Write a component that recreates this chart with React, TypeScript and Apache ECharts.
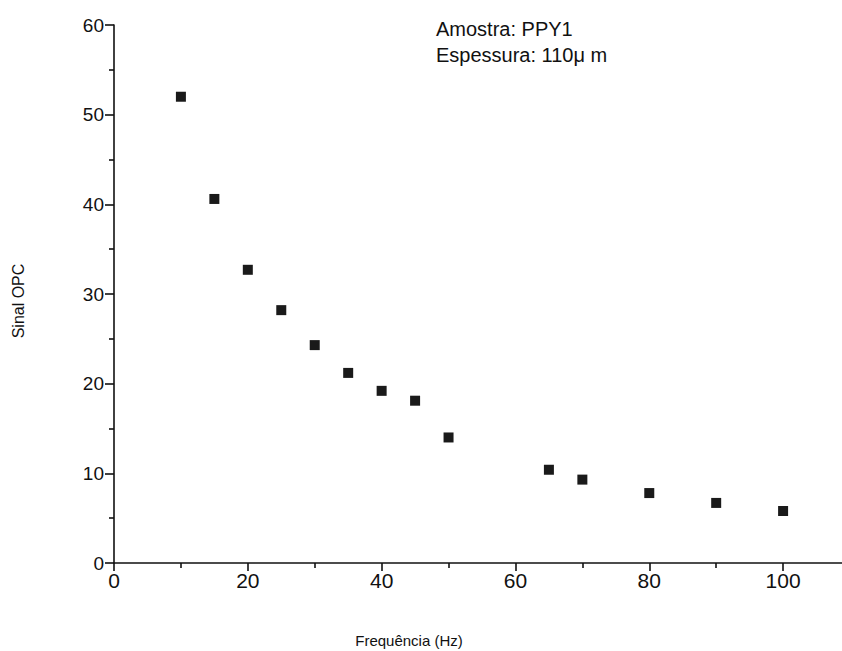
import React, { useEffect, useRef } from "react";
import * as echarts from "echarts";

const frequencies = [10, 15, 20, 25, 30, 35, 40, 45, 50, 65, 70, 80, 90, 100];
const signal = [52.0, 40.6, 32.7, 28.2, 24.3, 21.2, 19.2, 18.1, 14.0, 10.4, 9.3, 7.8, 6.7, 5.8];
const annotationLines = ["Amostra: PPY1", "Espessura: 110\u03bc m"];
const xTitle = "Frequência (Hz)";
const yTitle = "Sinal OPC";

const FONT = '"Liberation Sans", Arial, Helvetica, sans-serif';

export default function App() {
  const ref = useRef<HTMLDivElement>(null);
  useEffect(() => {
    if (!ref.current) return;
    const chart = echarts.init(ref.current, null, { renderer: "svg" });
    const data = frequencies.map((f, i) => [f, signal[i]]);
    chart.setOption({
      animation: false,
      backgroundColor: "#ffffff",
      grid: {
        left: 114,
        top: 25,
        width: 736,
        height: 538,
        containLabel: false,
        outerBoundsMode: "none",
      },
      xAxis: {
        type: "value",
        min: 0,
        max: 110,
        interval: 20,
        splitLine: { show: false },
        axisLine: { onZero: false, lineStyle: { color: "#111", width: 1.6 } },
        axisTick: { show: true, inside: false, length: 8, lineStyle: { color: "#111", width: 1.6 } },
        minorTick: { show: true, splitNumber: 2, length: 5, lineStyle: { color: "#111", width: 1.6 } },
        axisLabel: {
          margin: 7,
          color: "#111",
          fontSize: 21,
          fontFamily: FONT,
          formatter: (v: number) => (v <= 100 ? String(v) : ""),
        },
      },
      yAxis: {
        type: "value",
        min: 0,
        max: 60,
        interval: 10,
        splitLine: { show: false },
        axisLine: { onZero: false, lineStyle: { color: "#111", width: 1.6 } },
        axisTick: { show: true, inside: false, length: 9, lineStyle: { color: "#111", width: 1.6 } },
        minorTick: { show: true, splitNumber: 2, length: 5, lineStyle: { color: "#111", width: 1.6 } },
        axisLabel: { margin: 10, color: "#111", fontSize: 19, fontFamily: FONT },
      },
      series: [
        {
          type: "scatter",
          data,
          symbol: "rect",
          symbolSize: 10,
          itemStyle: { color: "#1a1a1a", opacity: 1 },
        },
      ],
      graphic: [
        {
          type: "text",
          left: 436,
          top: 19,
          style: { text: annotationLines[0], fontSize: 20, fontFamily: FONT, fill: "#111" },
        },
        {
          type: "text",
          left: 436,
          top: 45,
          style: { text: annotationLines[1], fontSize: 20, fontFamily: FONT, fill: "#111" },
        },
        {
          type: "text",
          x: 409,
          y: 640,
          style: {
            text: xTitle,
            fontSize: 15,
            fontFamily: FONT,
            fill: "#111",
            align: "center",
            verticalAlign: "middle",
          },
        },
        {
          type: "text",
          x: 18,
          y: 301,
          rotation: Math.PI / 2,
          style: {
            text: yTitle,
            fontSize: 16,
            fontFamily: FONT,
            fill: "#111",
            align: "center",
            verticalAlign: "middle",
          },
        },
      ],
    });
    return () => chart.dispose();
  }, []);
  return (
    <div
      ref={ref}
      style={{ position: "absolute", left: 0, top: 0, width: 842, height: 651, overflow: "hidden" }}
    />
  );
}
